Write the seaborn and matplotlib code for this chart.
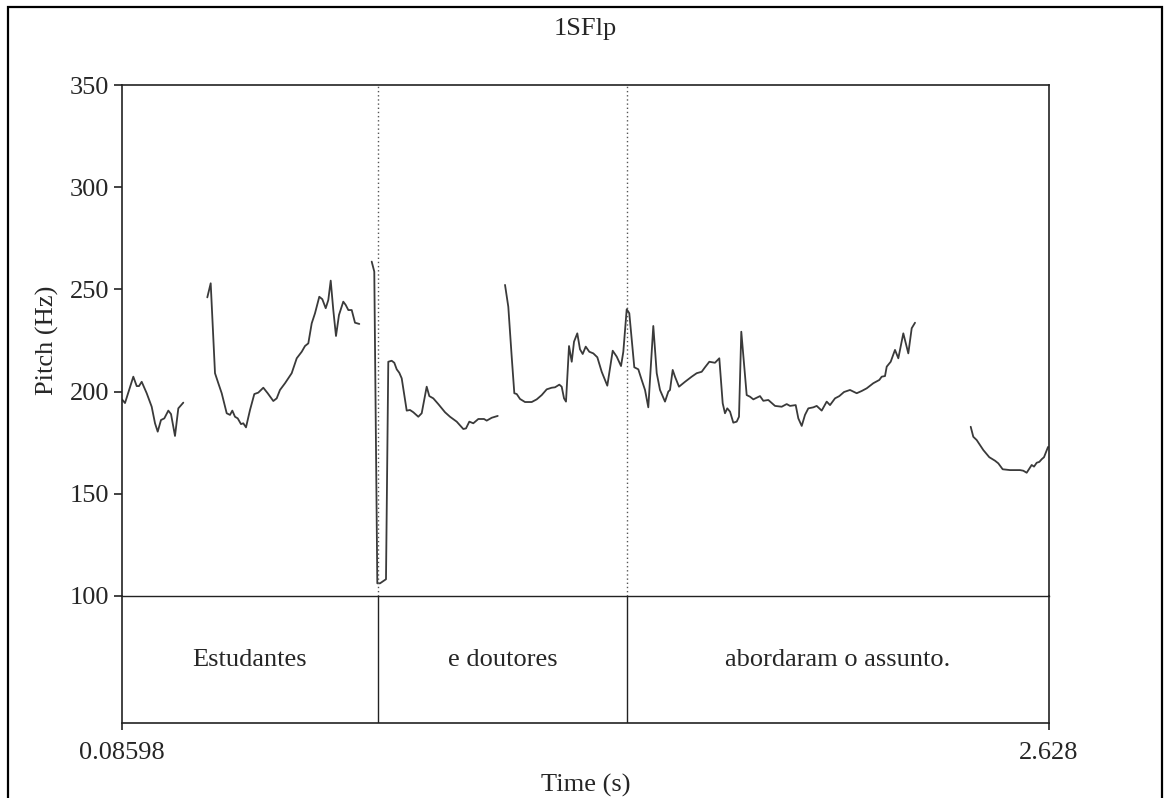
import numpy as np
import pandas as pd
import matplotlib
matplotlib.use("Agg")
import matplotlib.pyplot as plt
from matplotlib.patches import Rectangle
import seaborn as sns

# ---------------- data ----------------
title = "1SFlp"
t_start, t_end = 0.08598, 2.628
boundaries = [0.788, 1.4708]
interval_labels = ["Estudantes", "e doutores", "abordaram o assunto."]
yticks = [100, 150, 200, 250, 300, 350]

seg1_t = [0.086, 0.0942, 0.1170, 0.1263, 0.1326, 0.1400, 0.1537, 0.1674, 0.1765,
          0.1839, 0.1929, 0.2020, 0.2130, 0.2204, 0.2313, 0.2404, 0.2541]
seg1_f = [196.2, 194.4, 207.3, 202.7, 202.7, 204.8, 199.2, 192.6, 184.5,
          180.4, 186.1, 186.9, 190.7, 189.0, 178.3, 191.8, 194.6]

seg2_t = [0.3199, 0.3292, 0.3410, 0.3501, 0.3594, 0.3731, 0.3821, 0.3885, 0.3958,
          0.4033, 0.4123, 0.4186, 0.4260, 0.4370, 0.4488, 0.4597, 0.4735, 0.4855,
          0.5009, 0.5102, 0.5192, 0.5330, 0.5513, 0.5651, 0.5788, 0.5878, 0.5969,
          0.6062, 0.6152, 0.6270, 0.6353, 0.6446, 0.6517, 0.6583, 0.6654, 0.6728,
          0.6810, 0.6928, 0.6994, 0.7066, 0.7159, 0.7249, 0.7367]
seg2_f = [246.1, 253.0, 209.0, 204.1, 199.2, 189.4, 188.6, 190.7, 187.7,
          186.9, 184.1, 184.5, 182.5, 191.0, 198.8, 199.5, 201.9, 199.2,
          195.4, 196.7, 200.8, 204.1, 209.0, 216.3, 219.5, 222.3, 223.6,
          233.4, 238.3, 246.4, 245.2, 240.8, 244.8, 254.3, 239.9, 227.2,
          237.5, 244.0, 242.4, 239.9, 239.9, 233.7, 233.1]

seg3_t = [0.7707, 0.7778, 0.7861, 0.7935, 0.8099, 0.8162, 0.8255, 0.8327, 0.8393,
          0.8464, 0.8530, 0.8667, 0.8757, 0.8848, 0.8985, 0.9078, 0.9215, 0.9287,
          0.9396, 0.9533, 0.9717, 0.9854, 1.0038, 1.0219, 1.0293, 1.0384, 1.0493,
          1.0631, 1.0787, 1.0861, 1.0998, 1.1163]
seg3_f = [263.6, 258.7, 106.2, 106.2, 108.2, 214.6, 215.1, 214.1, 210.9,
          209.2, 206.5, 190.7, 191.0, 189.9, 187.7, 189.4, 202.4, 197.8,
          196.7, 193.9, 189.9, 187.7, 185.3, 181.7, 182.0, 185.3, 184.5,
          186.6, 186.6, 185.8, 187.2, 188.1]

seg4_t = [1.1363, 1.1453, 1.1546, 1.1618, 1.1684, 1.1774, 1.1911, 1.2095, 1.2232,
          1.2369, 1.2506, 1.2643, 1.2734, 1.2852, 1.2917, 1.2981, 1.3035, 1.3118,
          1.3192, 1.3255, 1.3345, 1.3419, 1.3493, 1.3576, 1.3674, 1.3784, 1.3894,
          1.4014, 1.4168, 1.4316, 1.4426, 1.4544, 1.4607, 1.4700, 1.4771, 1.4908,
          1.5018, 1.5111, 1.5202, 1.5292, 1.5429, 1.5523, 1.5613, 1.5750, 1.5841,
          1.5887, 1.5961, 1.6024, 1.6134, 1.6299, 1.6482, 1.6619, 1.6756, 1.6847,
          1.6965, 1.7121, 1.7239, 1.7332, 1.7395, 1.7458, 1.7533, 1.7623, 1.7716,
          1.7779, 1.7842, 1.7916, 1.7990, 1.8081, 1.8172, 1.8355, 1.8446, 1.8583,
          1.8767, 1.8950, 1.9087, 1.9178, 1.9334, 1.9406, 1.9499, 1.9589, 1.9680,
          1.9817, 1.9910, 2.0047, 2.0184, 2.0275, 2.0412, 2.0530, 2.0659, 2.0823,
          2.1007, 2.1144, 2.1281, 2.1462, 2.1627, 2.1693, 2.1783, 2.1830, 2.1939,
          2.2057, 2.2148, 2.2285, 2.2422, 2.2515, 2.2606]
seg4_f = [252.2, 241.5, 217.1, 199.2, 198.8, 196.4, 194.9, 194.9, 196.2,
          198.3, 201.1, 201.9, 202.1, 203.4, 202.4, 196.7, 195.1, 222.3,
          214.6, 224.4, 228.5, 220.7, 218.4, 222.0, 219.5, 218.7, 216.8,
          209.7, 202.9, 220.0, 217.1, 212.5, 219.5, 240.3, 238.3, 211.9,
          210.9, 205.7, 200.8, 192.3, 232.1, 209.0, 200.8, 195.1, 200.0,
          200.8, 210.6, 207.3, 202.4, 204.8, 207.3, 209.0, 209.7, 211.9,
          214.6, 214.1, 216.3, 194.3, 189.4, 191.8, 190.2, 184.8, 185.3,
          187.7, 229.3, 213.8, 198.3, 197.5, 196.2, 197.8, 195.5, 195.9,
          193.0, 192.6, 193.9, 193.0, 193.4, 186.9, 183.2, 188.6, 191.8,
          192.3, 193.0, 190.7, 195.1, 193.4, 196.7, 197.8, 199.8, 200.8,
          199.2, 200.3, 201.6, 204.1, 205.7, 207.3, 207.6, 212.2, 214.6,
          220.4, 216.3, 228.5, 218.7, 231.0, 233.7]

seg5_t = [2.4133, 2.4204, 2.4297, 2.4479, 2.4643, 2.4799, 2.4890, 2.5010, 2.5211,
          2.5485, 2.5575, 2.5668, 2.5805, 2.5869, 2.5943, 2.6014, 2.6079, 2.6143,
          2.6253]
seg5_f = [182.8, 177.9, 176.3, 171.4, 167.9, 166.2, 164.9, 162.0, 161.6,
          161.6, 161.3, 160.3, 164.1, 163.3, 165.2, 165.6, 166.9, 167.9,
          172.9]

segments = [(seg1_t, seg1_f), (seg2_t, seg2_f), (seg3_t, seg3_f),
            (seg4_t, seg4_f), (seg5_t, seg5_f)]
frames = []
for i, (tt, ff) in enumerate(segments):
    frames.append(pd.DataFrame({"time": tt, "pitch": ff, "seg": i}))
df = pd.concat(frames, ignore_index=True)

# ---------------- style ----------------
sns.set_style("ticks")
plt.rcParams["font.family"] = ["Liberation Serif", "DejaVu Serif"]
FS = 19

W, H = 1165, 798
fig = plt.figure(figsize=(W / 100, H / 100), dpi=100)

def fx(px):
    return px / W

def fy(py):
    return 1 - py / H

L, R = 122, 1049
T, M, B = 85, 596, 723
axt = fig.add_axes([fx(L), fy(B), fx(R) - fx(L), fy(M) - fy(B)])
ax = fig.add_axes([fx(L), fy(M), fx(R) - fx(L), fy(T) - fy(M)])
axt.patch.set_alpha(0)
ax.patch.set_alpha(0)

line_c = "#3a3a3a"
sns.lineplot(data=df, x="time", y="pitch", units="seg", estimator=None,
             sort=False, color=line_c, linewidth=1.3, ax=ax)

for b in boundaries:
    ax.axvline(b, color="#555555", linestyle=(0, (1, 2)), linewidth=1.0)
    axt.axvline(b, color="#222222", linewidth=1.0)

ax.set_xlim(t_start, t_end)
ax.set_ylim(100, 350)
ax.set_yticks(yticks)
ax.set_yticklabels([str(v) for v in yticks], fontsize=FS)
ax.set_xticks([])
ax.set_xlabel("")
ax.set_ylabel("Pitch (Hz)", fontsize=FS, labelpad=8)
ax.tick_params(axis="y", length=6, width=1.2, color="#222222", pad=3)
for s in ax.spines.values():
    s.set_visible(True)
    s.set_linewidth(1.2)
    s.set_color("#222222")
ax.spines["bottom"].set_linewidth(1.0)

axt.set_xlim(t_start, t_end)
axt.set_ylim(0, 1)
axt.set_yticks([])
axt.set_xticks([t_start, t_end])
axt.set_xticklabels(["0.08598", "2.628"], fontsize=FS)
axt.tick_params(axis="x", length=5, width=1.2, color="#222222", pad=9)
for s in axt.spines.values():
    s.set_linewidth(1.2)
    s.set_color("#222222")
axt.spines["top"].set_visible(False)
axt.set_xlabel("Time (s)", fontsize=FS, labelpad=7)

edges = [t_start] + boundaries + [t_end]
for i, lab in enumerate(interval_labels):
    axt.text((edges[i] + edges[i + 1]) / 2, 0.5, lab, ha="center", va="center",
             fontsize=FS)

fig.text(fx((L + R) / 2), fy(29), title, ha="center", va="center", fontsize=FS)

fig.patches.append(Rectangle((fx(8), fy(830)), fx(1162) - fx(8), fy(7) - fy(830),
                             transform=fig.transFigure, fill=False,
                             edgecolor="black", linewidth=1.6, clip_on=False))

fig.savefig("out.png", dpi=100, facecolor="white")
